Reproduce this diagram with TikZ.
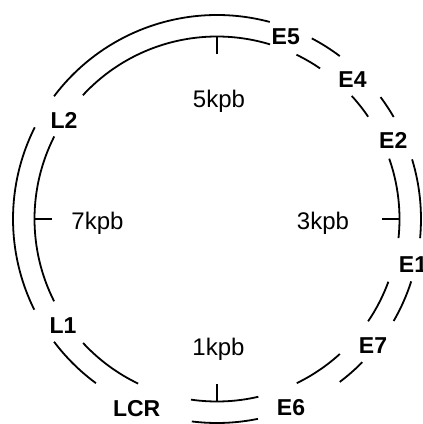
\documentclass[tikz,border=0pt]{standalone}
\usepackage{fontspec}
\setmainfont{Liberation Sans}
\begin{document}
\begin{tikzpicture}[x=1pt,y=1pt,
  ring/.style={line width=1.8pt, draw=black},
  tickmark/.style={line width=1.5pt, draw=black},
  gene/.style={font=\fontsize{23}{27}\selectfont\bfseries, anchor=base, inner sep=0pt},
  kb/.style={font=\fontsize{24}{28}\selectfont, anchor=base, inner sep=0pt}]
\useasboundingbox (0,0) rectangle (423,-424);
\coordinate (c) at (217,-219);
% outer ring segments
\foreach \a/\b in {75/143, 53/62.3, 30/36.7, -5.4/17, -30/-17.8, -53/-44.6, -97.1/-78.4, 217/233.6, 153.3/206.4}
  \draw[ring] ([shift={(c)}]\a:204pt) arc[start angle=\a, end angle=\b, radius=204pt];
% inner ring segments
\foreach \a/\b in {73.1/137.3, 55.6/64.2, 34.1/42.4, -6/19.3, -34.1/-20.1, -64.1/-47.7, -98.2/-76.9, 222.8/244.4, 153.1/206.8}
  \draw[ring] ([shift={(c)}]\a:182.5pt) arc[start angle=\a, end angle=\b, radius=182.5pt];
% ticks
\foreach \t in {0,90,180,270}
  \draw[tickmark] ([shift={(c)}]\t:182.5pt) -- ([shift={(c)}]\t:165pt);
% scale labels
\node[kb] (k5) at (219,-107.5) {5kpb};
\node[kb] (k7) at (97.5,-229) {7kpb};
\node[kb] (k3) at (323,-229) {3kpb};
\node[kb] (k1) at (218.5,-355) {1kpb};
% gene labels
\node[gene] (E5) at (285.8,-44.3) {E5};
\node[gene] (E4) at (352.5,-87.3) {E4};
\node[gene] (E2) at (393.3,-148.3) {E2};
\node[gene] (E1) at (413,-272) {E1};
\node[gene] (E7) at (373,-353.7) {E7};
\node[gene] (E6) at (291,-415.3) {E6};
\node[gene] (LCR) at (136.7,-416) {LCR};
\node[gene] (L1) at (63,-333.7) {L1};
\node[gene] (L2) at (64,-128.3) {L2};
\end{tikzpicture}
\end{document}
